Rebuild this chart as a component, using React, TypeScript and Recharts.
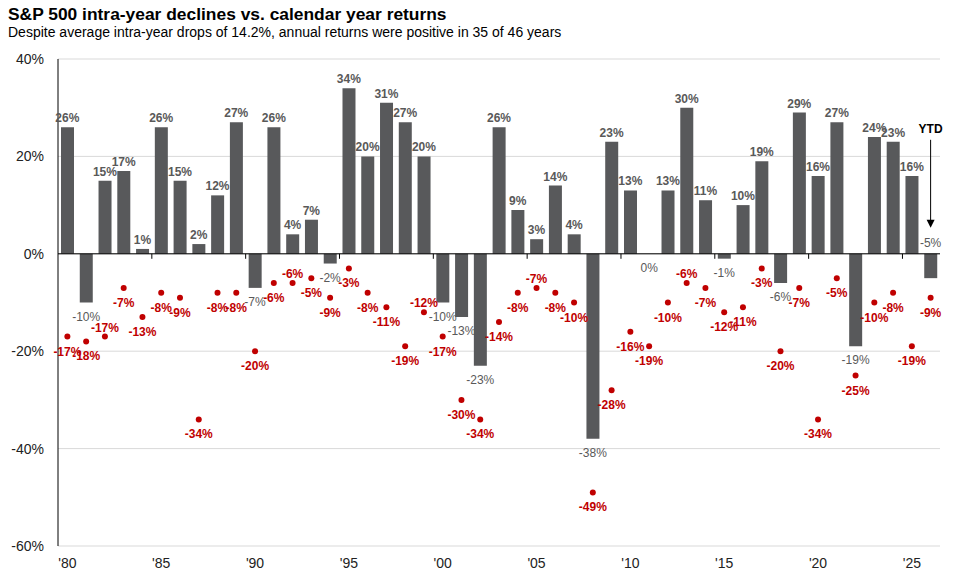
import { ComposedChart, Bar, Line, XAxis, YAxis, CartesianGrid, ReferenceLine, LabelList } from 'recharts';

// calendar years, the last one is year-to-date
const years = [
  1980, 1981, 1982, 1983, 1984, 1985, 1986, 1987, 1988, 1989,
  1990, 1991, 1992, 1993, 1994, 1995, 1996, 1997, 1998, 1999,
  2000, 2001, 2002, 2003, 2004, 2005, 2006, 2007, 2008, 2009,
  2010, 2011, 2012, 2013, 2014, 2015, 2016, 2017, 2018, 2019,
  2020, 2021, 2022, 2023, 2024, 2025, 2026,
];

// calendar year returns, %
const annualReturns = [
  26, -10, 15, 17, 1, 26, 15, 2, 12, 27,
  -7, 26, 4, 7, -2, 34, 20, 31, 27, 20,
  -10, -13, -23, 26, 9, 3, 14, 4, -38, 23,
  13, 0, 13, 30, 11, -1, 10, 19, -6, 29,
  16, 27, -19, 24, 23, 16, -5,
];

// largest intra-year drop, %
const intraYearDeclines = [
  -17, -18, -17, -7, -13, -8, -9, -34, -8, -8,
  -20, -6, -6, -5, -9, -3, -8, -11, -19, -12,
  -17, -30, -34, -14, -8, -7, -8, -10, -49, -28,
  -16, -19, -10, -6, -7, -12, -11, -3, -20, -7,
  -34, -5, -25, -10, -8, -19, -9,
];

const yTicks = [-60, -40, -20, 0, 20, 40];

// red labels that sit above their dot instead of below
const labelAboveYears = [1982, 1992, 1999, 2005, 2013];

const data = years.map((year, i) => ({
  year,
  ret: annualReturns[i],
  dd: intraYearDeclines[i],
}));

const FONT = '"Liberation Sans", Arial, Helvetica, sans-serif';
const BAR_GRAY = '#58595b';
const LABEL_GRAY = '#595959';
const RED = '#c00000';

const PLOT_LEFT = 58;
const PLOT_RIGHT = 940;
const PLOT_TOP = 59;
const PLOT_BOTTOM = 546;
const Y_MIN = -60;
const Y_MAX = 40;
const ZERO_Y = PLOT_TOP + (Y_MAX / (Y_MAX - Y_MIN)) * (PLOT_BOTTOM - PLOT_TOP);
const BAND = (PLOT_RIGHT - PLOT_LEFT) / years.length;

function YearTick(props: any) {
  const { x, payload } = props;
  const year = Number(payload.value);
  if (year % 5 !== 0) return <g />;
  const edge = x - BAND / 2;
  return (
    <g>
      {year !== years[0] && (
        <line x1={edge} x2={edge} y1={ZERO_Y} y2={ZERO_Y + 5} stroke="#000" strokeWidth={1} />
      )}
      <text x={x} y={568} textAnchor="middle" fontSize={14} fill="#222">
        {"'" + String(year).slice(2)}
      </text>
    </g>
  );
}

// labels for the bars, hung on an invisible line through the bar ends
function ReturnLabel(props: any) {
  const { x, y, value, index } = props;

  if (index === years.length - 1) {
    return (
      <g>
        <text x={x} y={ZERO_Y - 7} textAnchor="middle" fontSize={12} fill={LABEL_GRAY}>
          {value}%
        </text>
        <text x={x} y={ZERO_Y - 121} textAnchor="middle" fontSize={12} fontWeight="bold" fill="#000">
          YTD
        </text>
        <line x1={x} x2={x} y1={ZERO_Y - 114} y2={ZERO_Y - 33} stroke="#000" strokeWidth={1} />
        <polygon
          points={`${x - 4},${ZERO_Y - 34} ${x + 4},${ZERO_Y - 34} ${x},${ZERO_Y - 26}`}
          fill="#000"
        />
      </g>
    );
  }

  if (value > 0) {
    return (
      <text x={x} y={y - 5} textAnchor="middle" fontSize={12} fontWeight="bold" fill={LABEL_GRAY}>
        {value}%
      </text>
    );
  }
  return (
    <text x={x} y={y + 18} textAnchor="middle" fontSize={12} fill={LABEL_GRAY}>
      {value}%
    </text>
  );
}

function DeclineLabel(props: any) {
  const { x, y, value, index } = props;
  const above = labelAboveYears.includes(years[index]);
  return (
    <text
      x={x}
      y={above ? y - 5 : y + 19}
      textAnchor="middle"
      fontSize={12}
      fontWeight="bold"
      fill={RED}
    >
      {value}%
    </text>
  );
}

export default function App() {
  return (
    <div
      style={{
        position: 'absolute',
        left: 0,
        top: 0,
        width: 965,
        height: 582,
        background: '#fff',
        fontFamily: FONT,
      }}
    >
      <div
        style={{
          position: 'absolute',
          left: 8,
          top: 4,
          fontSize: 17.4,
          lineHeight: '20px',
          fontWeight: 'bold',
          color: '#000',
          whiteSpace: 'nowrap',
        }}
      >
        S&amp;P 500 intra-year declines vs. calendar year returns
      </div>
      <div
        style={{
          position: 'absolute',
          left: 8,
          top: 24,
          fontSize: 14,
          lineHeight: '16px',
          color: '#000',
          whiteSpace: 'nowrap',
        }}
      >
        Despite average intra-year drops of 14.2%, annual returns were positive in 35 of 46 years
      </div>
      <div style={{ position: 'absolute', left: 0, top: 0 }}>
        <ComposedChart
          width={965}
          height={582}
          data={data}
          margin={{ top: PLOT_TOP, right: 965 - PLOT_RIGHT, left: 0, bottom: 6 }}
        >
          <CartesianGrid vertical={false} stroke="#d9d9d9" />
          <XAxis
            dataKey="year"
            interval={0}
            height={30}
            axisLine={false}
            tickLine={false}
            tick={(p: any) => <YearTick {...p} />}
          />
          <YAxis
            domain={[Y_MIN, Y_MAX]}
            ticks={yTicks}
            width={PLOT_LEFT}
            tickFormatter={(v: number) => `${v}%`}
            tick={{ fontSize: 14, fill: '#222' }}
            tickLine={false}
            tickSize={6}
            tickMargin={8}
            axisLine={{ stroke: '#000' }}
          />
          <Bar dataKey="ret" fill={BAR_GRAY} barSize={13} isAnimationActive={false} />
          <ReferenceLine y={0} stroke="#000" strokeWidth={1} />
          <Line
            dataKey="ret"
            stroke="none"
            strokeWidth={0}
            dot={false}
            activeDot={false}
            isAnimationActive={false}
            legendType="none"
          >
            <LabelList dataKey="ret" content={(p: any) => <ReturnLabel {...p} />} />
          </Line>
          <Line
            dataKey="dd"
            stroke="none"
            strokeWidth={0}
            dot={{ r: 3, fill: RED, stroke: RED, strokeWidth: 0 }}
            activeDot={false}
            isAnimationActive={false}
            legendType="none"
          >
            <LabelList dataKey="dd" content={(p: any) => <DeclineLabel {...p} />} />
          </Line>
        </ComposedChart>
      </div>
    </div>
  );
}
